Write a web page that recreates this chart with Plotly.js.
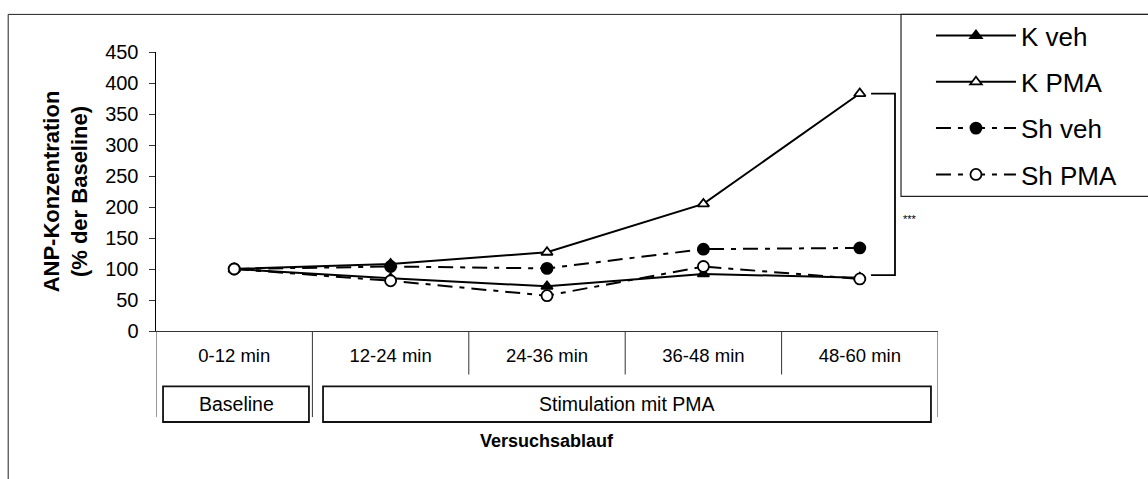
<!DOCTYPE html>
<html>
<head>
<meta charset="utf-8">
<script src="https://cdn.plot.ly/plotly-3.0.1.min.js"></script>
<style>
  html, body { margin: 0; padding: 0; background: #fff; }
  #chart { width: 1148px; height: 479px; }
</style>
</head>
<body>
<div id="chart"></div>
<script>
// Zeitintervalle (erste Kategorieebene)
const categories = ['0-12 min', '12-24 min', '24-36 min', '36-48 min', '48-60 min'];

// Versuchsphasen (zweite Kategorieebene): Name, erste und letzte Kategorie
const phaseNames = ['Baseline', 'Stimulation mit PMA'];
const phaseFirst = [0, 1];
const phaseLast = [0, 4];

// ANP-Konzentration in % der Baseline
const kVeh  = [100, 85, 72, 92, 86];
const kPma  = [100, 108, 127, 205, 383];
const shVeh = [100, 104, 101, 132, 134];
const shPma = [100, 81, 57, 104, 84];

const seriesNames = ['K veh', 'K PMA', 'Sh veh', 'Sh PMA'];
const yTicks = [0, 50, 100, 150, 200, 250, 300, 350, 400, 450];

// Signifikanz zwischen K PMA und K veh im letzten Intervall
const sigLabel = '***';
const sigLow = 90;

const FONT = 'Arial, "Liberation Sans", sans-serif';
const dashDot = '15px,7px,5px,7px';

function trace(y, name, symbol, fill, dash, group) {
  return {
    x: categories, y: y, name: name, type: 'scatter', mode: 'lines+markers',
    legendgroup: group,
    line: { color: '#000', width: 2, dash: dash },
    marker: { symbol: symbol, size: symbol.indexOf('circle') === 0 ? 11 : 10,
              color: fill, line: { color: '#000', width: 1.8 } },
    cliponaxis: false
  };
}

const data = [
  trace(kVeh,  seriesNames[0], 'triangle-up', '#000', 'solid', 'a'),
  trace(kPma,  seriesNames[1], 'triangle-up', '#fff', 'solid', 'b'),
  trace(shVeh, seriesNames[2], 'circle', '#000', dashDot, 'c'),
  trace(shPma, seriesNames[3], 'circle', '#fff', dashDot, 'd')
];

// Hilfsgrößen für die Kategorieachse unterhalb des Diagramms
const n = categories.length;
const yLevel1 = -0.156;   // Unterkante der Zeitintervall-Zeile (paper)
const yLevel2 = -0.3085;  // Unterkante der Phasen-Zeile (paper)
const boxTop = -0.1986, boxBottom = -0.3262;

const shapes = [];
const lineStyle = { color: '#333', width: 1 };

// Trennlinien zwischen den Kategorien
for (let i = 0; i <= n; i++) {
  const b = i - 0.5;
  const groupEdge = (i === 0 || i === n || phaseFirst.indexOf(i) >= 0);
  shapes.push({ type: 'line', xref: 'x', yref: 'paper', x0: b, x1: b,
                y0: 0, y1: groupEdge ? yLevel2 : yLevel1, line: lineStyle });
}

// Rahmen um die Phasenbeschriftungen
const annotations = [];
for (let p = 0; p < phaseNames.length; p++) {
  const left = phaseFirst[p] - 0.5 + (p === 0 ? 0.045 : 0.068);
  const right = phaseLast[p] + 0.5 - (p === 0 ? 0.022 : 0.045);
  shapes.push({ type: 'rect', xref: 'x', yref: 'paper', x0: left, x1: right,
                y0: boxTop, y1: boxBottom, line: { color: '#111', width: 1.8 } });
  annotations.push({ xref: 'x', yref: 'paper', x: (left + right) / 2, y: (boxTop + boxBottom) / 2,
                     text: phaseNames[p], showarrow: false, xanchor: 'center', yanchor: 'middle',
                     font: { family: FONT, size: 19.5, color: '#000' } });
}

// Signifikanzklammer
const last = n - 1;
shapes.push({ type: 'path', xref: 'x', yref: 'y',
  path: `M ${last + 0.072},${kPma[last]} L ${last + 0.225},${kPma[last]} L ${last + 0.225},${sigLow} L ${last + 0.072},${sigLow}`,
  line: { color: '#000', width: 1.8 } });
annotations.push({ xref: 'x', yref: 'y', x: last + 0.262, y: 180, text: sigLabel, showarrow: false,
                   xanchor: 'left', yanchor: 'middle', font: { family: FONT, size: 11, color: '#000' } });

// Achsentitel der Kategorieachse
annotations.push({ xref: 'paper', yref: 'paper', x: 0.5, y: -0.394, text: 'Versuchsablauf', showarrow: false,
                   xanchor: 'center', yanchor: 'middle',
                   font: { family: FONT, size: 18, color: '#000', weight: 'bold' } });

// Äußerer Diagrammrahmen und Legendenrahmen
shapes.push({ type: 'rect', xref: 'paper', yref: 'paper', x0: -0.189, x1: 1.3, y0: -0.8, y1: 1.1348,
              line: { color: '#222', width: 1 }, layer: 'below' });
shapes.push({ type: 'rect', xref: 'paper', yref: 'paper', x0: 0.9527, x1: 1.3, y0: 0.4823, y1: 1.1348,
              line: { color: '#222', width: 1.2 } });

const layout = {
  width: 1148, height: 479,
  margin: { l: 156, r: 210, t: 49, b: 148, pad: 0 },
  paper_bgcolor: '#fff', plot_bgcolor: '#fff',
  font: { family: FONT, color: '#000' },
  showlegend: true,
  legend: {
    x: 0.991, xanchor: 'left', y: 1.143, yanchor: 'top',
    font: { family: FONT, size: 26, color: '#000' },
    bgcolor: 'rgba(0,0,0,0)', borderwidth: 0,
    tracegroupgap: 9.5, itemwidth: 80
  },
  xaxis: {
    type: 'category', categoryorder: 'array', categoryarray: categories,
    range: [-0.5, n - 0.5], showgrid: false, zeroline: false,
    showline: true, linecolor: '#333', linewidth: 1,
    ticks: '', ticklabelstandoff: 8,
    tickfont: { family: FONT, size: 18.5, color: '#000' }
  },
  yaxis: {
    range: [0, 450], tickvals: yTicks, showgrid: false, zeroline: false,
    showline: true, linecolor: '#000', linewidth: 1.5,
    ticks: 'outside', ticklen: 6, tickcolor: '#333', tickwidth: 1,
    ticklabelstandoff: 6,
    tickfont: { family: FONT, size: 20, color: '#000' },
    title: { text: 'ANP-Konzentration<br>(% der Baseline)', standoff: 11,
             font: { family: FONT, size: 22, color: '#000', weight: 'bold' } }
  },
  shapes: shapes,
  annotations: annotations
};

Plotly.newPlot('chart', data, layout, { displayModeBar: false, staticPlot: true });
</script>
</body>
</html>
